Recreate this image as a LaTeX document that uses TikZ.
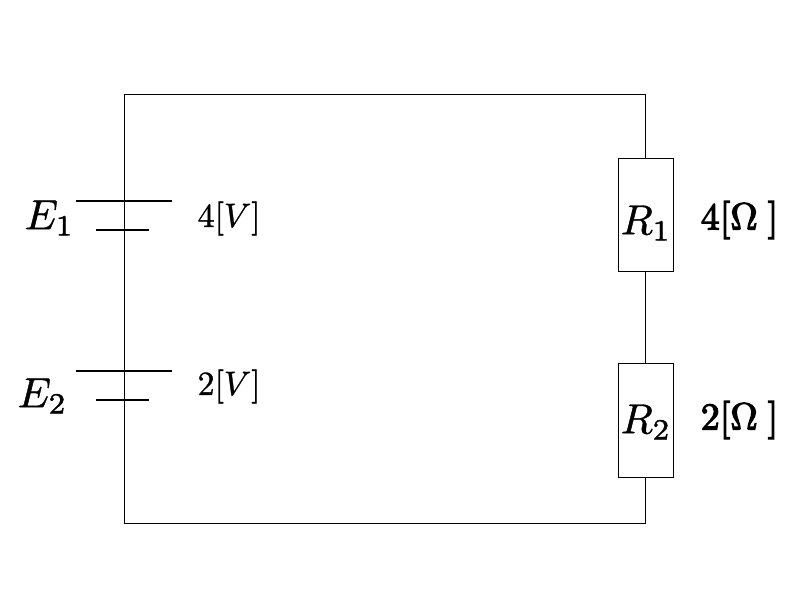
\documentclass[tikz,border=0pt]{standalone}
\newcommand{\heavytext}[1]{\special{pdf:code 2 Tr 0.1 w}#1\special{pdf:code 0 Tr}}
\newcommand{\heaviertext}[1]{\special{pdf:code 2 Tr 0.3 w}#1\special{pdf:code 0 Tr}}
\begin{document}
\begin{tikzpicture}[x=1pt,y=-1pt,
  wire/.style={draw=black,line width=0.4pt},
  plate/.style={draw=black,line width=1.5pt},
  res/.style={draw=black,line width=0.4pt,minimum width=55pt,minimum height=113.5pt,inner sep=0pt},
  lab/.style={inner sep=0pt,scale=4.2},
  val/.style={inner sep=0pt,scale=3.38},
  valb/.style={inner sep=0pt,scale=3.8}]
\useasboundingbox (0,0) rectangle (800,600);
\coordinate (tl) at (124.5,94.5);
\coordinate (tr) at (645.5,94.5);
\coordinate (bl) at (124.5,523);
\coordinate (br) at (645.5,523);
\coordinate (e1a) at (124.5,201.2);
\coordinate (e1b) at (124.5,230.2);
\coordinate (e2a) at (124.5,371.2);
\coordinate (e2b) at (124.5,400.2);
\node[res] (r1) at (645.5,214.5) {};
\node[res] (r2) at (645.5,420.25) {};
\draw[wire] (r1.north) -- (tr) -- (tl) -- (bl) -- (br) -- (r2.south);
\draw[wire] (r1.south) -- (r2.north);
\draw[plate] ([xshift=-48.5pt]e1a) -- ([xshift=47.5pt]e1a);
\draw[plate] ([xshift=-28.5pt]e1b) -- ([xshift=24pt]e1b);
\draw[plate] ([xshift=-48.5pt]e2a) -- ([xshift=47.5pt]e2a);
\draw[plate] ([xshift=-28.5pt]e2b) -- ([xshift=24pt]e2b);
\node[lab] (n1) at (49.5,218) {\heavytext{$E_1$}};
\node[lab] (n2) at (42.5,396) {\heavytext{$E_2$}};
\node[val,anchor=west] (v1) at (197,218.5) {\heavytext{$4[V]$}};
\node[val,anchor=west] (v2) at (197,386.5) {\heavytext{$2[V]$}};
\node[lab] (n3) at (646,223) {\heavytext{$R_1$}};
\node[lab] (n4) at (646,422) {\heavytext{$R_2$}};
\node[valb,anchor=west] (v3) at (700,220) {\heaviertext{4[$\Omega$\kern2.6pt]}};
\node[valb,anchor=west] (v4) at (700,420) {\heaviertext{2[$\Omega$\kern2.6pt]}};
\end{tikzpicture}
\end{document}
